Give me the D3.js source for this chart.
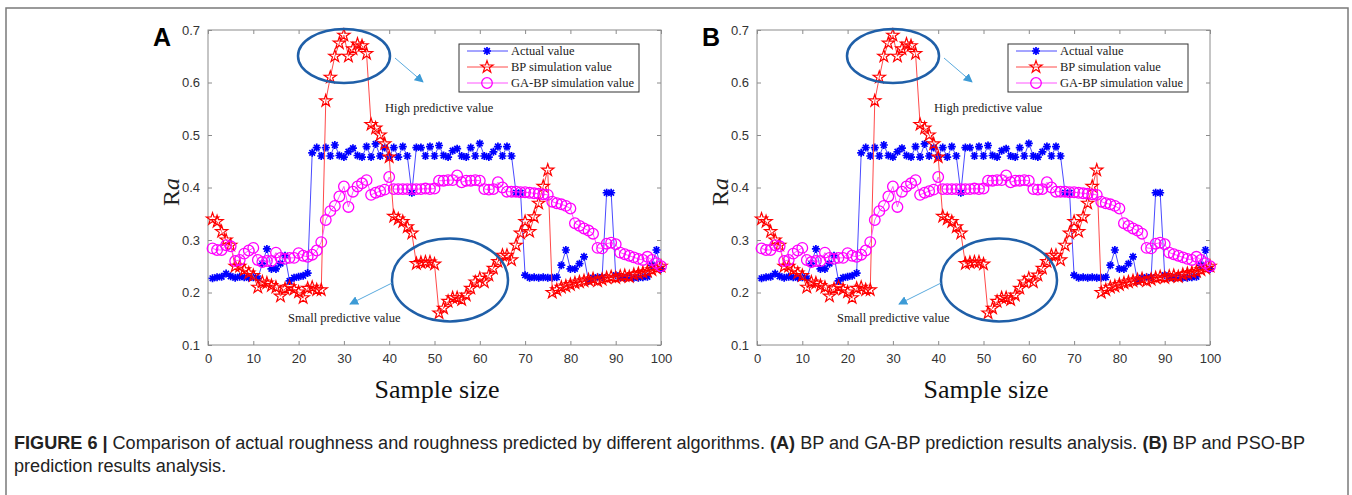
<!DOCTYPE html>
<html>
<head>
<meta charset="utf-8">
<script src="https://cdn.jsdelivr.net/npm/d3@7"></script>
<style>
body { margin: 0; background: #fff; }
svg { display: block; }
</style>
</head>
<body>
<svg id="chart" width="1352" height="495"></svg>
<script>
// sample index 1..100
var samples = d3.range(1, 101);

var actual = [0.227, 0.229, 0.230, 0.236, 0.231, 0.228, 0.230, 0.229, 0.228, 0.229,
              0.227, 0.255, 0.283, 0.245, 0.245, 0.255, 0.270, 0.222, 0.228, 0.230,
              0.232, 0.237, 0.466, 0.476, 0.460, 0.476, 0.460, 0.481, 0.461, 0.458,
              0.468, 0.475, 0.461, 0.458, 0.478, 0.458, 0.483, 0.460, 0.476, 0.458,
              0.476, 0.458, 0.478, 0.460, 0.390, 0.476, 0.476, 0.460, 0.478, 0.460,
              0.480, 0.461, 0.458, 0.470, 0.474, 0.460, 0.458, 0.476, 0.460, 0.484,
              0.460, 0.458, 0.468, 0.478, 0.460, 0.478, 0.460, 0.390, 0.390, 0.233,
              0.228, 0.229, 0.228, 0.229, 0.228, 0.228, 0.229, 0.252, 0.281, 0.245,
              0.245, 0.255, 0.268, 0.222, 0.228, 0.229, 0.229, 0.390, 0.390, 0.233,
              0.229, 0.228, 0.229, 0.228, 0.228, 0.229, 0.230, 0.252, 0.281, 0.245];

var bp = [0.340, 0.335, 0.316, 0.300, 0.290, 0.250, 0.250, 0.243, 0.237, 0.232,
          0.210, 0.220, 0.218, 0.213, 0.210, 0.193, 0.207, 0.211, 0.206, 0.201,
          0.190, 0.208, 0.210, 0.205, 0.205, 0.565, 0.610, 0.650, 0.675, 0.690,
          0.650, 0.664, 0.673, 0.670, 0.655, 0.520, 0.513, 0.500, 0.483, 0.458,
          0.345, 0.340, 0.335, 0.325, 0.313, 0.255, 0.257, 0.258, 0.258, 0.254,
          0.161, 0.170, 0.183, 0.190, 0.190, 0.186, 0.195, 0.208, 0.220, 0.227,
          0.220, 0.233, 0.246, 0.259, 0.271, 0.271, 0.262, 0.290, 0.313, 0.335,
          0.316, 0.344, 0.370, 0.402, 0.433, 0.200, 0.205, 0.210, 0.212, 0.215,
          0.218, 0.220, 0.222, 0.224, 0.226, 0.222, 0.225, 0.228, 0.230, 0.228,
          0.231, 0.232, 0.230, 0.234, 0.236, 0.238, 0.240, 0.243, 0.246, 0.250];

var gaBp = [0.284, 0.281, 0.281, 0.290, 0.288, 0.260, 0.262, 0.274, 0.280, 0.285,
            0.262, 0.258, 0.260, 0.260, 0.276, 0.266, 0.264, 0.266, 0.266, 0.275,
            0.270, 0.268, 0.272, 0.280, 0.296, 0.338, 0.355, 0.365, 0.383, 0.402,
            0.363, 0.392, 0.402, 0.408, 0.414, 0.386, 0.390, 0.393, 0.396, 0.420,
            0.397, 0.397, 0.397, 0.397, 0.397, 0.397, 0.397, 0.398, 0.397, 0.398,
            0.413, 0.413, 0.414, 0.414, 0.423, 0.410, 0.413, 0.413, 0.414, 0.413,
            0.397, 0.396, 0.397, 0.410, 0.400, 0.392, 0.392, 0.392, 0.391, 0.391,
            0.390, 0.389, 0.388, 0.387, 0.386, 0.373, 0.370, 0.368, 0.365, 0.360,
            0.332, 0.327, 0.322, 0.318, 0.312, 0.285, 0.284, 0.293, 0.295, 0.292,
            0.276, 0.273, 0.270, 0.267, 0.264, 0.262, 0.268, 0.262, 0.256, 0.250];

var xTicks = [0, 10, 20, 30, 40, 50, 60, 70, 80, 90, 100];
var yTicks = [0.1, 0.2, 0.3, 0.4, 0.5, 0.6, 0.7];
var legendNames = ["Actual value", "BP simulation value", "GA-BP simulation value"];
var panelLetters = ["A", "B"];

var svg = d3.select("#chart");

// outer figure frame
svg.append("rect")
    .attr("x", 6).attr("y", 8)
    .attr("width", 1342).attr("height", 520)
    .attr("fill", "none")
    .attr("stroke", "#7a7a7a")
    .attr("stroke-width", 1.5);

var defs = svg.append("defs");
defs.append("marker")
    .attr("id", "arrow")
    .attr("viewBox", "0 0 10 10")
    .attr("refX", 9).attr("refY", 5)
    .attr("markerWidth", 9).attr("markerHeight", 9)
    .attr("markerUnits", "userSpaceOnUse")
    .attr("orient", "auto")
  .append("path")
    .attr("d", "M0,0 L10,5 L0,10 z")
    .attr("fill", "#3d9bd6");

// MATLAB style '*' marker: plus and cross together
var asterisk8 = {
    draw: function (ctx, size) {
        var r = Math.sqrt(size) / 2;
        var d = r * Math.SQRT1_2;
        ctx.moveTo(-r, 0); ctx.lineTo(r, 0);
        ctx.moveTo(0, -r); ctx.lineTo(0, r);
        ctx.moveTo(-d, -d); ctx.lineTo(d, d);
        ctx.moveTo(-d, d); ctx.lineTo(d, -d);
    }
};

var series = [
    {name: legendNames[0], values: actual, color: "#0000ff", line: "#4a4aff"},
    {name: legendNames[1], values: bp, color: "#ff0000", line: "#ff4a4a"},
    {name: legendNames[2], values: gaBp, color: "#ff00ff", line: "#ff55ff"}
];

function drawMarker(g, kind, color) {
    if (kind == 0) {
        g.append("path")
            .attr("d", d3.symbol().type(asterisk8).size(64)())
            .attr("fill", "none").attr("stroke", color).attr("stroke-width", 1.7);
    } else if (kind == 1) {
        g.append("path")
            .attr("d", d3.symbol().type(d3.symbolStar).size(46)())
            .attr("fill", "none").attr("stroke", color).attr("stroke-width", 1.2);
    } else {
        g.append("circle")
            .attr("r", 5.3)
            .attr("fill", "none").attr("stroke", color).attr("stroke-width", 1.3);
    }
}

function drawPanel(left, letter) {
    var top = 30, width = 453, height = 315;

    var x = d3.scaleLinear().domain([0, 100]).range([left, left + width]);
    var y = d3.scaleLinear().domain([0.1, 0.7]).range([top + height, top]);

    var g = svg.append("g");

    // box
    g.append("rect")
        .attr("x", left).attr("y", top)
        .attr("width", width).attr("height", height)
        .attr("fill", "none")
        .attr("stroke", "#8c8c8c")
        .attr("stroke-width", 1);

    // axes, ticks pointing inward like matlab
    var xAxisB = d3.axisBottom(x).tickValues(xTicks).tickSize(-4).tickPadding(9).tickFormat(d3.format("d"));
    var xAxisT = d3.axisTop(x).tickValues(xTicks).tickSize(-4).tickFormat("");
    var yAxisL = d3.axisLeft(y).tickValues(yTicks).tickSize(-4).tickPadding(8).tickFormat(d3.format(".1f"));
    var yAxisR = d3.axisRight(y).tickValues(yTicks).tickSize(-4).tickFormat("");

    var axes = [
        g.append("g").attr("transform", "translate(0," + (top + height) + ")").call(xAxisB),
        g.append("g").attr("transform", "translate(0," + top + ")").call(xAxisT),
        g.append("g").attr("transform", "translate(" + left + ",0)").call(yAxisL),
        g.append("g").attr("transform", "translate(" + (left + width) + ",0)").call(yAxisR)
    ];
    axes.forEach(function (a) {
        a.select(".domain").remove();
        a.selectAll("line").attr("stroke", "#8c8c8c");
        a.selectAll("text")
            .attr("fill", "#333")
            .style("font-family", "'Liberation Sans', Arial, sans-serif")
            .style("font-size", "13px");
    });

    // series
    var line = d3.line()
        .x(function (d, i) { return x(samples[i]); })
        .y(function (d) { return y(d); });

    series.forEach(function (s, k) {
        g.append("path")
            .datum(s.values)
            .attr("d", line)
            .attr("fill", "none")
            .attr("stroke", s.line)
            .attr("stroke-width", 1);
        s.values.forEach(function (v, i) {
            var m = g.append("g").attr("transform", "translate(" + x(samples[i]) + "," + y(v) + ")");
            drawMarker(m, k, s.color);
        });
    });

    // legend
    var lx = left + 251, ly = 44;
    g.append("rect")
        .attr("x", lx).attr("y", ly)
        .attr("width", 180).attr("height", 48)
        .attr("fill", "#fff")
        .attr("stroke", "#333")
        .attr("stroke-width", 1);
    series.forEach(function (s, k) {
        var yy = ly + 7 + k * 16;
        g.append("line")
            .attr("x1", lx + 8).attr("x2", lx + 49)
            .attr("y1", yy).attr("y2", yy)
            .attr("stroke", s.line).attr("stroke-width", 1);
        var m = g.append("g").attr("transform", "translate(" + (lx + 28) + "," + yy + ")");
        drawMarker(m, k, s.color);
        g.append("text")
            .attr("x", lx + 52).attr("y", yy + 4)
            .attr("fill", "#222")
            .style("font-family", "'Liberation Serif', 'Times New Roman', serif")
            .style("font-size", "12.5px")
            .text(s.name);
    });

    // annotations
    g.append("ellipse")
        .attr("cx", left + 136).attr("cy", 56)
        .attr("rx", 46).attr("ry", 27)
        .attr("fill", "none").attr("stroke", "#1f5fa8").attr("stroke-width", 2.5);
    g.append("line")
        .attr("x1", left + 187).attr("y1", 58)
        .attr("x2", left + 215).attr("y2", 82)
        .attr("stroke", "#5aaade").attr("stroke-width", 1)
        .attr("marker-end", "url(#arrow)");
    g.append("text")
        .attr("x", left + 177).attr("y", 112)
        .attr("fill", "#222")
        .style("font-family", "'Liberation Serif', 'Times New Roman', serif")
        .style("font-size", "12.5px")
        .text("High predictive value");

    g.append("ellipse")
        .attr("cx", left + 242).attr("cy", 280)
        .attr("rx", 58).attr("ry", 41.5)
        .attr("fill", "none").attr("stroke", "#1f5fa8").attr("stroke-width", 2.5);
    g.append("line")
        .attr("x1", left + 184).attr("y1", 283)
        .attr("x2", left + 142).attr("y2", 304)
        .attr("stroke", "#5aaade").attr("stroke-width", 1)
        .attr("marker-end", "url(#arrow)");
    g.append("text")
        .attr("x", left + 80).attr("y", 322)
        .attr("fill", "#222")
        .style("font-family", "'Liberation Serif', 'Times New Roman', serif")
        .style("font-size", "12.5px")
        .text("Small predictive value");

    // axis titles
    var yl = g.append("text")
        .attr("transform", "translate(" + (left - 29) + ",192) rotate(-90)")
        .attr("text-anchor", "middle")
        .attr("fill", "#222")
        .style("font-family", "'Liberation Serif', 'Times New Roman', serif")
        .style("font-size", "24px");
    yl.append("tspan").text("R");
    yl.append("tspan").style("font-style", "italic").text("a");

    g.append("text")
        .attr("x", left + 229).attr("y", 398)
        .attr("text-anchor", "middle")
        .attr("fill", "#111")
        .style("font-family", "'Liberation Serif', 'Times New Roman', serif")
        .style("font-size", "26px")
        .text("Sample size");

    g.append("text")
        .attr("x", left - 55).attr("y", 46)
        .attr("fill", "#000")
        .style("font-family", "'Liberation Sans', Arial, sans-serif")
        .style("font-weight", "bold")
        .style("font-size", "25px")
        .text(letter);
}

drawPanel(208, panelLetters[0]);
drawPanel(757, panelLetters[1]);

// caption
var capFont = "'Liberation Sans', Arial, sans-serif";
var cap1 = svg.append("text")
    .attr("x", 14).attr("y", 449)
    .attr("fill", "#222")
    .style("font-family", capFont)
    .style("font-size", "18px");
cap1.append("tspan").style("font-weight", "bold").text("FIGURE 6 |");
cap1.append("tspan").text(" Comparison of actual roughness and roughness predicted by different algorithms. ");
cap1.append("tspan").style("font-weight", "bold").text("(A)");
cap1.append("tspan").text(" BP and GA-BP prediction results analysis. ");
cap1.append("tspan").style("font-weight", "bold").text("(B)");
cap1.append("tspan").text(" BP and PSO-BP");

var cap2 = svg.append("text")
    .attr("x", 14).attr("y", 472)
    .attr("fill", "#222")
    .style("font-family", capFont)
    .style("font-size", "18px")
    .text("prediction results analysis.");

// squeeze the caption to the narrow face of the original
var w1 = cap1.node().getComputedTextLength();
var ratio = 1291 / w1;
cap1.attr("textLength", 1291).attr("lengthAdjust", "spacingAndGlyphs");
var w2 = cap2.node().getComputedTextLength();
cap2.attr("textLength", w2 * ratio).attr("lengthAdjust", "spacingAndGlyphs");
</script>
</body>
</html>
